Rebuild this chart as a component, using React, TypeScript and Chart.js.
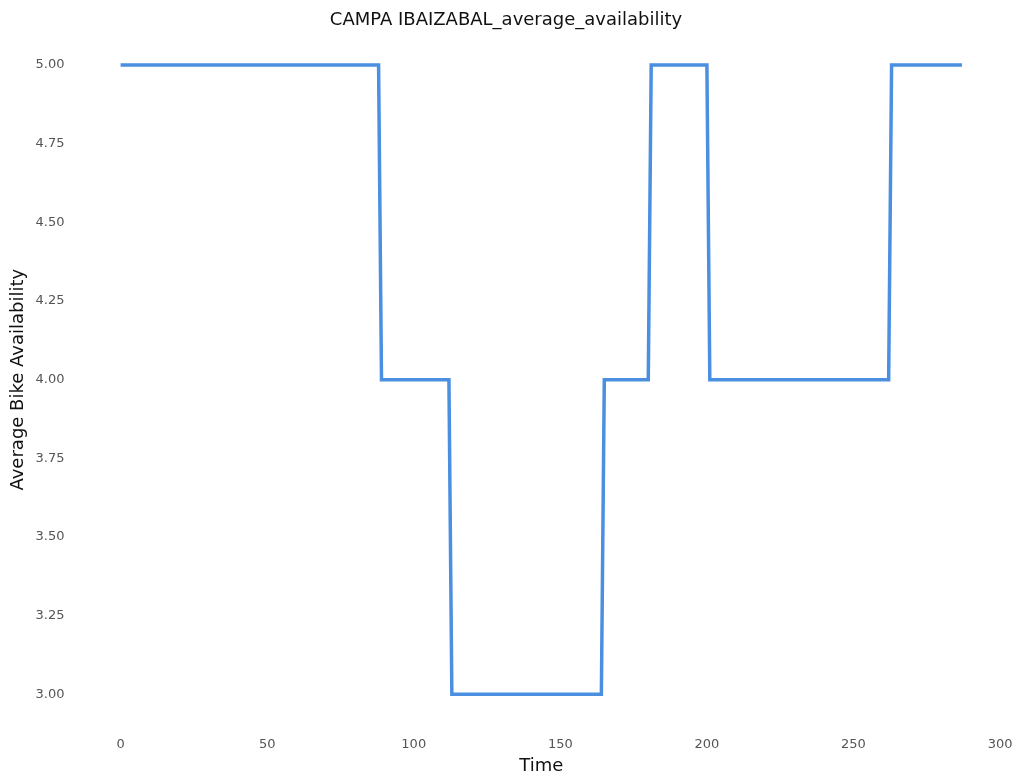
import React, { useEffect, useRef } from "react";
import Chart from "chart.js/auto";

// breakpoints of the step series (time index, availability)
const times = [0, 88, 89, 112, 113, 164, 165, 180, 181, 200, 201, 262, 263, 287];
const values = [5, 5, 4, 4, 3, 3, 4, 4, 5, 5, 4, 4, 5, 5];
const xTicks = [0, 50, 100, 150, 200, 250, 300];
const yTicks = [3, 3.25, 3.5, 3.75, 4, 4.25, 4.5, 4.75, 5];

const font = "'DejaVu Sans', sans-serif";

const App = () => {
  const chartRef = useRef<HTMLCanvasElement>(null);
  const chartInstance = useRef<any>(null);

  useEffect(() => {
    if (!chartRef.current) return;
    if (chartInstance.current) chartInstance.current.destroy();
    chartInstance.current = new Chart(chartRef.current, {
      type: "line",
      data: {
        datasets: [
          {
            data: times.map((t, i) => ({ x: t, y: values[i] })),
            borderColor: "#4a8fe0",
            borderWidth: 3.5,
            pointRadius: 0,
            fill: false,
            tension: 0,
          },
        ],
      },
      options: {
        animation: false,
        responsive: false,
        layout: { padding: { left: 8, right: 20, top: 4, bottom: 7 } },
        plugins: {
          legend: { display: false },
          tooltip: { enabled: false },
          title: {
            display: true,
            text: "CAMPA IBAIZABAL_average_availability",
            color: "#111",
            font: { family: font, size: 18, weight: "normal" },
            padding: { top: 6, bottom: 2 },
          },
        },
        scales: {
          x: {
            type: "linear",
            min: -14.35,
            max: 301.35,
            grid: { display: false },
            border: { display: false },
            afterBuildTicks: (s: any) => {
              s.ticks = xTicks.map((v) => ({ value: v }));
            },
            ticks: { color: "#555", font: { family: font, size: 13 } },
            title: {
              display: true,
              text: "Time",
              color: "#111",
              font: { family: font, size: 18 },
              padding: { top: 0, bottom: 0 },
            },
          },
          y: {
            min: 2.9,
            max: 5.1,
            grid: { display: false },
            border: { display: false },
            afterBuildTicks: (s: any) => {
              s.ticks = yTicks.map((v) => ({ value: v }));
            },
            ticks: {
              color: "#555",
              padding: 6,
              font: { family: font, size: 13 },
              callback: (v: any) => Number(v).toFixed(2),
            },
            title: {
              display: true,
              text: "Average Bike Availability",
              color: "#111",
              font: { family: font, size: 18 },
              padding: { top: 0, bottom: 0 },
            },
          },
        },
      },
    });
    return () => {
      if (chartInstance.current) chartInstance.current.destroy();
    };
  }, []);

  return (
    <div style={{ position: "fixed", left: 0, top: 0, width: 1024, height: 784, background: "#fff" }}>
      <canvas ref={chartRef} width={1024} height={784} />
    </div>
  );
};

export default App;
